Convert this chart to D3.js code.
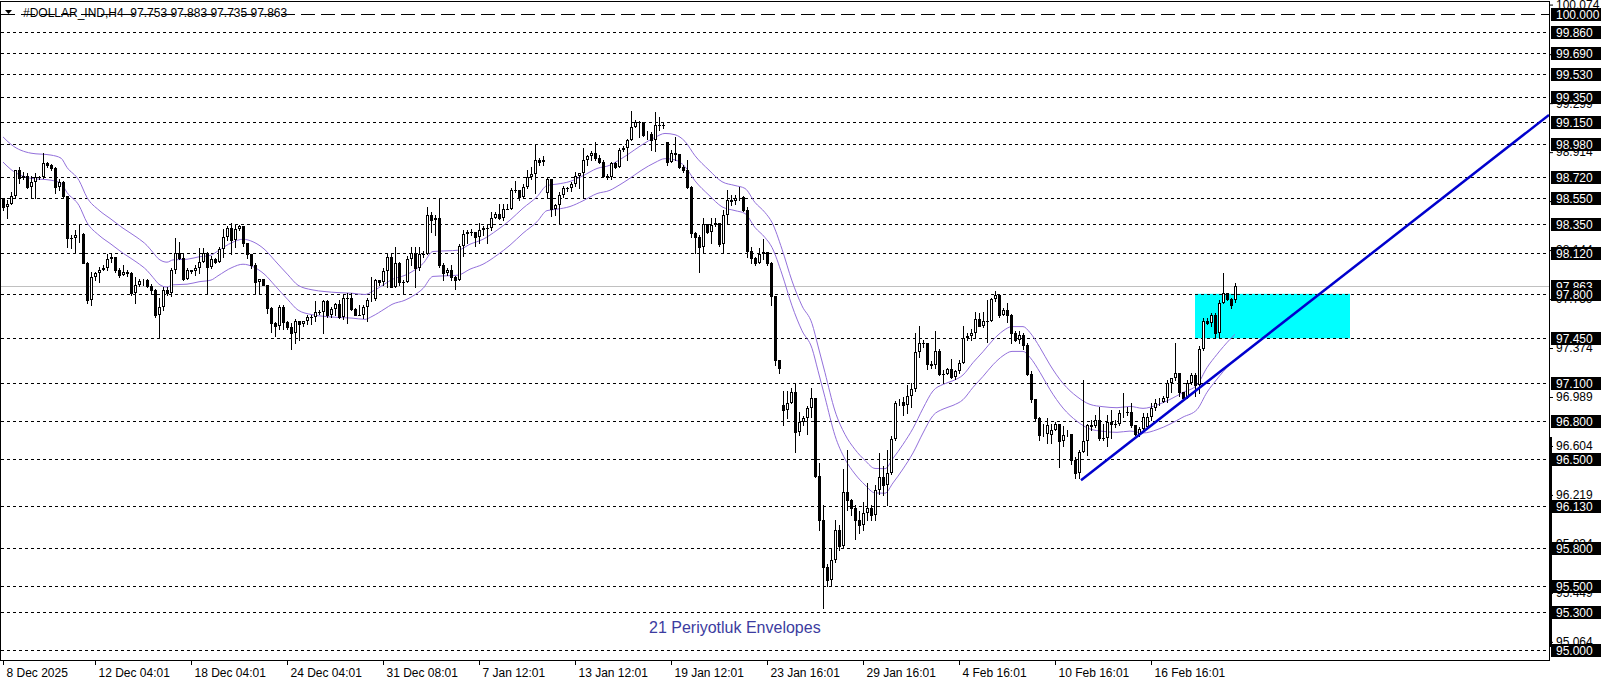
<!DOCTYPE html>
<html><head><meta charset="utf-8">
<script src="https://cdn.jsdelivr.net/npm/d3@7"></script>
<style>html,body{margin:0;padding:0;background:#fff;overflow:hidden}svg{display:block;font-family:"Liberation Sans",Arial,sans-serif}</style>
</head><body><svg id="chart" width="1606" height="684"></svg>
<script>
// ---- DATA (H4 candles, #DOLLAR_IND) ----
const open = [
98.55,98.48,98.51,98.57,98.77,98.71,98.73,98.64,98.68,98.72,
98.72,98.83,98.81,98.79,98.64,98.68,98.57,98.24,98.24,98.26,
98.27,98.04,97.75,97.93,97.96,97.99,98.00,98.07,98.09,97.99,
97.95,97.97,97.96,97.81,97.87,97.90,97.91,97.86,97.83,97.63,
97.70,97.83,97.81,97.99,98.12,98.08,97.92,97.99,97.98,98.00,
98.05,98.12,98.01,98.07,98.05,98.15,98.25,98.32,98.22,98.31,
98.33,98.20,98.11,98.03,97.89,97.92,97.87,97.69,97.57,97.55,
97.70,97.58,97.54,97.49,97.59,97.56,97.59,97.62,97.62,97.66,
97.66,97.74,97.63,97.68,97.72,97.62,97.77,97.77,97.68,97.63,
97.63,97.70,97.75,97.76,97.91,97.89,97.98,98.09,97.85,98.04,
97.89,97.89,98.07,98.12,98.00,98.11,98.11,98.42,98.38,98.40,
98.03,97.96,97.99,97.93,97.91,98.18,98.27,98.29,98.29,98.25,
98.30,98.32,98.32,98.40,98.43,98.40,98.47,98.47,98.62,98.62,
98.56,98.64,98.72,98.74,98.85,98.84,98.59,98.70,98.47,98.50,
98.58,98.63,98.63,98.66,98.73,98.75,98.85,98.88,98.91,98.87,
98.84,98.73,98.72,98.83,98.80,98.93,98.95,99.01,99.11,99.15,
99.15,99.05,99.06,99.01,99.13,99.13,98.99,98.84,98.91,98.90,
98.80,98.77,98.64,98.28,98.25,98.17,98.35,98.29,98.34,98.36,
98.19,98.42,98.54,98.53,98.55,98.56,98.46,98.14,98.08,98.04,
98.11,98.13,98.04,97.78,97.28,96.93,96.89,96.94,97.03,96.71,
96.79,96.82,96.90,96.98,96.37,96.02,95.65,95.55,95.71,95.94,
95.82,96.24,96.18,96.12,96.02,95.98,96.08,96.12,96.06,96.26,
96.36,96.30,96.39,96.66,96.94,96.95,96.93,97.00,97.05,97.34,
97.41,97.41,97.25,97.24,97.35,97.17,97.17,97.21,97.15,97.19,
97.26,97.45,97.47,97.49,97.60,97.55,97.59,97.59,97.76,97.79,
97.63,97.67,97.63,97.49,97.44,97.48,97.40,97.17,96.97,96.82,
96.69,96.70,96.69,96.73,96.78,96.64,96.69,96.70,96.49,96.39,
96.56,96.64,96.77,96.76,96.81,96.67,96.67,96.79,96.78,96.78,
96.86,96.87,96.87,96.77,96.70,96.74,96.75,96.83,96.90,96.94,
96.95,96.98,97.10,97.14,97.18,97.03,96.98,97.10,97.16,97.08,
97.37,97.59,97.57,97.63,97.49,97.73,97.81,97.76,97.753];
const high = [
98.55,98.54,98.60,98.77,98.80,98.76,98.75,98.73,98.75,98.73,
98.91,98.84,98.82,98.80,98.70,98.69,98.57,98.26,98.30,98.34,
98.28,98.05,97.97,97.97,98.01,98.03,98.11,98.11,98.05,98.00,
98.03,97.99,97.97,97.93,97.92,97.92,97.92,97.88,97.84,97.77,
97.85,97.85,98.00,98.24,98.21,98.11,98.00,97.99,98.03,98.16,
98.16,98.13,98.10,98.08,98.17,98.31,98.33,98.36,98.35,98.34,
98.26,98.20,98.11,98.04,97.92,97.92,97.81,97.70,97.58,97.71,
97.71,97.59,97.57,97.60,97.58,97.59,97.63,97.63,97.74,97.67,
97.75,97.75,97.70,97.73,97.75,97.79,97.81,97.81,97.69,97.71,
97.71,97.77,97.93,97.92,97.89,98.00,98.11,98.11,98.17,98.05,
97.91,98.10,98.17,98.17,98.17,98.14,98.48,98.44,98.42,98.55,
98.04,98.00,98.03,97.94,98.19,98.30,98.30,98.31,98.29,98.36,
98.33,98.34,98.44,98.44,98.51,98.51,98.51,98.63,98.69,98.62,
98.66,98.77,98.80,98.97,98.87,98.88,98.71,98.70,98.51,98.60,
98.65,98.64,98.68,98.76,98.75,98.95,98.89,98.92,98.99,98.89,
98.85,98.74,98.84,98.84,98.95,98.96,99.02,99.24,99.17,99.16,
99.15,99.08,99.07,99.23,99.19,99.15,98.99,98.93,99.03,98.90,
98.81,98.85,98.65,98.29,98.26,98.40,98.35,98.40,98.40,98.36,
98.46,98.62,98.58,98.58,98.64,98.57,98.48,98.17,98.09,98.16,
98.23,98.13,98.05,97.78,97.28,97.04,97.04,97.06,97.10,96.87,
96.84,96.92,97.06,96.98,96.47,96.14,95.68,95.80,96.02,95.98,
96.42,96.57,96.19,96.14,96.09,96.16,96.31,96.14,96.30,96.55,
96.45,96.57,96.68,96.96,96.97,96.99,97.08,97.10,97.49,97.55,
97.44,97.36,97.27,97.51,97.37,97.20,97.22,97.29,97.20,97.28,
97.55,97.49,97.52,97.66,97.65,97.66,97.75,97.77,97.82,97.77,
97.69,97.73,97.64,97.51,97.51,97.49,97.41,97.19,96.97,96.83,
96.78,96.82,96.78,96.79,96.78,96.76,96.73,96.68,96.52,96.57,
97.12,96.78,96.81,96.85,96.91,96.78,96.85,96.89,96.81,96.89,
97.02,96.91,96.94,96.77,96.75,96.86,96.86,96.94,96.97,96.98,
97.00,97.12,97.14,97.41,97.18,97.02,97.12,97.18,97.18,97.39,
97.61,97.61,97.65,97.65,97.75,97.96,97.81,97.77,97.883];
const low = [
98.46,98.40,98.51,98.55,98.67,98.70,98.63,98.55,98.55,98.70,
98.71,98.80,98.77,98.59,98.62,98.55,98.17,98.16,98.12,98.21,
98.04,97.73,97.71,97.91,97.89,97.99,97.99,98.05,97.97,97.93,
97.96,97.94,97.79,97.73,97.86,97.87,97.85,97.81,97.62,97.45,
97.67,97.79,97.78,97.96,98.07,97.91,97.92,97.96,97.95,97.96,
98.05,97.81,98.00,98.04,98.07,98.09,98.22,98.11,98.17,98.30,
98.18,98.08,98.00,97.81,97.81,97.87,97.65,97.50,97.47,97.52,
97.52,97.52,97.37,97.41,97.44,97.55,97.56,97.56,97.59,97.64,
97.49,97.62,97.62,97.63,97.61,97.60,97.57,97.67,97.63,97.63,
97.61,97.59,97.74,97.75,97.87,97.87,97.85,97.85,97.85,97.87,
97.81,97.89,98.03,97.85,97.99,98.09,98.26,98.29,98.26,98.01,
97.91,97.95,97.91,97.84,97.92,98.10,98.20,98.26,98.18,98.20,
98.26,98.20,98.30,98.40,98.39,98.38,98.47,98.47,98.60,98.54,
98.62,98.63,98.70,98.59,98.81,98.81,98.55,98.41,98.42,98.36,
98.56,98.61,98.61,98.65,98.63,98.55,98.81,98.85,98.85,98.83,
98.72,98.70,98.70,98.79,98.82,98.92,98.85,99.01,99.11,99.03,
99.04,99.02,98.93,98.92,99.09,99.10,98.81,98.85,98.85,98.79,
98.76,98.63,98.25,98.12,97.97,98.12,98.28,98.20,98.33,98.18,
98.13,98.36,98.50,98.51,98.54,98.45,98.09,98.04,98.03,98.07,
98.07,98.03,97.71,97.24,97.18,96.77,96.82,96.94,96.56,96.69,
96.77,96.70,96.83,96.36,95.94,95.33,95.50,95.51,95.69,95.79,
95.80,96.10,96.06,95.87,95.92,95.94,96.02,96.02,96.02,96.23,
96.22,96.14,96.38,96.65,96.93,96.85,96.86,96.91,97.04,97.30,
97.38,97.21,97.22,97.22,97.16,97.10,97.17,97.14,97.13,97.18,
97.26,97.44,97.44,97.45,97.55,97.54,97.42,97.59,97.74,97.62,
97.63,97.58,97.41,97.43,97.41,97.37,97.16,96.95,96.81,96.65,
96.68,96.63,96.63,96.73,96.44,96.60,96.68,96.46,96.35,96.35,
96.56,96.53,96.73,96.75,96.65,96.65,96.60,96.67,96.75,96.77,
96.83,96.85,96.75,96.69,96.68,96.77,96.75,96.81,96.89,96.93,
96.95,96.95,97.03,97.12,97.00,96.97,97.03,97.09,97.00,97.02,
97.36,97.56,97.55,97.45,97.45,97.73,97.75,97.69,97.735];
const close = [
98.48,98.51,98.57,98.77,98.71,98.73,98.64,98.68,98.72,98.72,
98.83,98.81,98.79,98.64,98.68,98.57,98.24,98.24,98.26,98.27,
98.04,97.75,97.93,97.96,97.99,98.00,98.07,98.09,97.99,97.95,
97.97,97.96,97.81,97.87,97.90,97.91,97.86,97.83,97.63,97.70,
97.83,97.81,97.99,98.12,98.08,97.92,97.99,97.98,98.00,98.05,
98.12,98.01,98.07,98.05,98.15,98.25,98.32,98.22,98.31,98.33,
98.20,98.11,98.03,97.89,97.92,97.87,97.69,97.57,97.55,97.70,
97.58,97.54,97.49,97.59,97.56,97.59,97.62,97.62,97.66,97.66,
97.74,97.63,97.68,97.72,97.62,97.77,97.77,97.68,97.63,97.63,
97.70,97.75,97.76,97.91,97.89,97.98,98.09,97.85,98.04,97.89,
97.89,98.07,98.12,98.00,98.11,98.11,98.42,98.38,98.40,98.03,
97.96,97.99,97.93,97.91,98.18,98.27,98.29,98.29,98.25,98.30,
98.32,98.32,98.40,98.43,98.40,98.47,98.47,98.62,98.62,98.56,
98.64,98.72,98.74,98.85,98.84,98.85,98.70,98.47,98.50,98.58,
98.63,98.63,98.66,98.73,98.75,98.85,98.88,98.91,98.87,98.84,
98.73,98.72,98.83,98.80,98.93,98.95,99.01,99.11,99.15,99.15,
99.05,99.06,99.01,99.13,99.13,99.13,98.84,98.91,98.90,98.80,
98.77,98.64,98.28,98.25,98.17,98.35,98.29,98.34,98.36,98.19,
98.42,98.54,98.53,98.55,98.56,98.46,98.14,98.08,98.04,98.11,
98.13,98.04,97.78,97.28,97.22,96.89,96.94,97.03,96.71,96.79,
96.82,96.90,96.98,96.37,96.02,95.65,95.55,95.71,95.94,95.82,
96.24,96.18,96.12,96.02,95.98,96.08,96.12,96.06,96.26,96.36,
96.30,96.39,96.66,96.94,96.95,96.93,97.00,97.05,97.34,97.41,
97.41,97.25,97.24,97.35,97.17,97.17,97.21,97.15,97.19,97.26,
97.45,97.47,97.49,97.60,97.55,97.59,97.59,97.76,97.79,97.63,
97.67,97.63,97.49,97.44,97.48,97.40,97.17,96.97,96.82,96.69,
96.70,96.77,96.73,96.78,96.64,96.69,96.70,96.49,96.39,96.56,
96.64,96.77,96.76,96.81,96.67,96.67,96.79,96.78,96.78,96.86,
96.87,96.87,96.77,96.70,96.74,96.83,96.83,96.90,96.94,96.95,
96.98,97.10,97.14,97.18,97.03,96.98,97.10,97.16,97.08,97.37,
97.59,97.57,97.63,97.49,97.73,97.81,97.76,97.71,97.863];

// 21-period envelope midline, read at bar positions
const envBar = [0,2,7,12,14.5,16,19,21,24,27,30,33.5,36,37.5,39,41,42.5,46,49,52,53.75,57.25,60,62.5,65.5,68,71.25,73.75,77.25,80.5,83.75,87.25,90.5,92.25,95.5,97.25,100.5,103,105,107.5,111,113.75,116.75,120,123.5,126.75,130,133.5,136,138.5,141.75,145,148.5,151.75,153,156,159.75,163,165.5,168,170.5,173,176.5,179.75,183,185.5,188,190.5,192.25,194.75,197.25,199.75,202.25,203.75,205.5,208,210.5,213,215.5,218,220.5,222.5,225,227.5,230,232.5,235,237.5,240,242.5,245,247.5,250,252.25,255,256.75,259.25,261.75,265,268.5,271.75,275,278.5,281.75,285,288.5,291.75,295,298.5,301,303.5,306.75,308];
const envMid = [98.935,98.876,98.807,98.792,98.768,98.695,98.593,98.459,98.359,98.289,98.218,98.145,98.082,98.027,97.974,97.951,97.969,97.974,97.993,98.006,98.040,98.105,98.131,98.111,98.048,97.962,97.851,97.770,97.734,97.720,97.712,97.707,97.697,97.720,97.781,97.815,97.848,97.891,97.940,98.035,98.040,98.045,98.092,98.131,98.202,98.281,98.375,98.465,98.553,98.564,98.585,98.630,98.687,98.713,98.734,98.792,98.873,98.931,98.962,98.952,98.899,98.787,98.674,98.583,98.553,98.530,98.420,98.341,98.263,98.053,97.804,97.608,97.469,97.293,97.083,96.782,96.598,96.480,96.394,96.331,96.329,96.410,96.520,96.646,96.803,96.940,96.991,97.020,97.065,97.162,97.248,97.340,97.411,97.445,97.445,97.398,97.280,97.144,96.999,96.895,96.834,96.816,96.808,96.818,96.803,96.829,96.873,96.928,96.987,97.123,97.227,97.345,97.384];
const envDeviationPct = 0.1;

const levelLines = [100.000,99.860,99.690,99.530,99.350,99.150,98.980,98.720,98.550,98.350,98.120,97.800,97.450,97.100,96.800,96.500,96.130,95.800,95.500,95.300,95.000];
const currentPrice = 97.863;
const scaleTicks = [100.074,99.684,99.299,98.914,98.529,98.144,97.759,97.374,96.989,96.604,96.219,95.834,95.449,95.064];
const dateTickBars = [0,23,47,71,95,119,143,167,191,215,239,263,287];
const dateLabels = ["8 Dec 2025","12 Dec 04:01","18 Dec 04:01","24 Dec 04:01","31 Dec 08:01","7 Jan 12:01","13 Jan 12:01","19 Jan 12:01","23 Jan 16:01","29 Jan 16:01","4 Feb 16:01","10 Feb 16:01","16 Feb 16:01"];
const trendBars = [269.5, 386.5];
const trendPrices = [96.335, 99.206];
const zoneBars = [298, 336.75];
const zonePrices = [97.45, 97.80];
const titleText = "#DOLLAR_IND,H4  97.753 97.883 97.735 97.863";
const noteText = "21 Periyotluk Envelopes";

// ---- LAYOUT ----
const plotL = 0, plotR = 1549, plotT = 1, plotB = 660;
const svg = d3.select("#chart");
svg.append("rect").attr("width",1606).attr("height",684).attr("fill","#fff");

const x = d3.scaleLinear().domain([0, 386.5]).range([3, 1549]);
const y = d3.scaleLinear().domain([95, 100]).range([650, 14]);

svg.append("defs").append("clipPath").attr("id","plotclip")
  .append("rect").attr("x",plotL+1).attr("y",plotT+1).attr("width",plotR-plotL-1).attr("height",plotB-plotT-1);

const plot = svg.append("g").attr("clip-path","url(#plotclip)");

// zone rectangle
plot.append("rect")
  .attr("x", x(zoneBars[0])).attr("width", x(zoneBars[1]) - x(zoneBars[0]))
  .attr("y", y(zonePrices[1])).attr("height", y(zonePrices[0]) - y(zonePrices[1]))
  .attr("fill", "#00ffff");

// level lines
plot.selectAll("line.lvl").data(levelLines).enter().append("line")
  .attr("class","lvl")
  .attr("x1", 1).attr("x2", plotR)
  .attr("y1", d => Math.round(y(d)) + 0.5).attr("y2", d => Math.round(y(d)) + 0.5)
  .attr("stroke", "#000").attr("stroke-width", 1)
  .attr("stroke-dasharray", d => d === 100 ? "14,6" : "3,3");

// current price line
plot.append("line").attr("x1",1).attr("x2",plotR)
  .attr("y1", Math.round(y(currentPrice))+0.5).attr("y2", Math.round(y(currentPrice))+0.5)
  .attr("stroke","#c0c0c0").attr("stroke-width",1);

// envelopes
const envPts = envBar.map((b,i) => ({b, v: envMid[i]}));
const k = envDeviationPct/100;
const envLine = f => d3.line().x(d => x(d.b)).y(d => y(f(d.v))).curve(d3.curveMonotoneX);
plot.append("path").datum(envPts).attr("d", envLine(v => v*(1+k))).attr("fill","none").attr("stroke","#9370db").attr("stroke-width",1);
plot.append("path").datum(envPts).attr("d", envLine(v => v*(1-k))).attr("fill","none").attr("stroke","#9370db").attr("stroke-width",1);

// candles
const candles = close.map((c,i) => ({i, o: open[i], h: high[i], l: low[i], c}));
const cg = plot.append("g");
candles.forEach(d => {
  const cx = Math.round(x(d.i));
  const hi = Math.max(d.h, d.o, d.c), lo = Math.min(d.l, d.o, d.c);
  cg.append("line").attr("x1", cx+0.5).attr("x2", cx+0.5)
    .attr("y1", Math.round(y(hi))).attr("y2", Math.round(y(lo))+1)
    .attr("stroke","#000").attr("stroke-width",1);
  const top = Math.round(y(Math.max(d.o,d.c))), bot = Math.round(y(Math.min(d.o,d.c)));
  if (bot - top < 1) {
    cg.append("rect").attr("x", cx-1).attr("y", top).attr("width",3).attr("height",1).attr("fill","#000");
  } else if (d.c >= d.o) {
    cg.append("rect").attr("x", cx-0.5).attr("y", top+0.5).attr("width",2).attr("height", Math.max(bot-top-1,0))
      .attr("fill","#fff").attr("stroke","#000").attr("stroke-width",1);
  } else {
    cg.append("rect").attr("x", cx-1).attr("y", top).attr("width",3).attr("height", bot-top+1).attr("fill","#000");
  }
});

// trend line
plot.append("line")
  .attr("x1", x(trendBars[0])).attr("y1", y(trendPrices[0]))
  .attr("x2", x(trendBars[1])).attr("y2", y(trendPrices[1]))
  .attr("stroke","#0000cd").attr("stroke-width",2.5);

// note text
svg.append("text").attr("x", 649).attr("y", 633).attr("font-size", 16)
  .attr("fill","#3c3ca0").text(noteText);

// title
svg.append("path").attr("d","M5,10 L12,10 L8.5,14 Z").attr("fill","#000");
svg.append("text").attr("x", 23).attr("y", 17).attr("font-size", 12).attr("fill","#000")
  .attr("xml:space","preserve").style("white-space","pre").text(titleText);

// frame
svg.append("line").attr("x1",0.5).attr("x2",0.5).attr("y1",plotT).attr("y2",plotB+1).attr("stroke","#000");
svg.append("line").attr("x1",0).attr("x2",plotR+1).attr("y1",plotT+0.5).attr("y2",plotT+0.5).attr("stroke","#000");
svg.append("line").attr("x1",0).attr("x2",plotR+1).attr("y1",plotB+0.5).attr("y2",plotB+0.5).attr("stroke","#000");
svg.append("line").attr("x1",plotR+0.5).attr("x2",plotR+0.5).attr("y1",plotT).attr("y2",plotB+1).attr("stroke","#000");
svg.append("rect").attr("x",plotR).attr("y",437).attr("width",3).attr("height",210).attr("fill","#000");

// right scale (plain labels)
const rAxis = d3.axisRight(y).tickValues(scaleTicks).tickSize(4).tickPadding(3).tickFormat(d3.format(".3f"));
const ra = svg.append("g").attr("transform",`translate(${plotR},0)`).call(rAxis);
ra.select(".domain").remove();
ra.selectAll("text").attr("font-size",12).attr("font-family","'Liberation Sans',Arial,sans-serif").attr("fill","#000");
ra.selectAll("line").attr("stroke","#000");

// boxed level labels
const boxes = [currentPrice].concat(levelLines);
const bg = svg.append("g");
boxes.forEach(v => {
  const cy = y(v) + 0.5;
  bg.append("rect").attr("x", plotR+2).attr("y", Math.round(cy-6.5)).attr("width", 50).attr("height", 13).attr("fill","#000");
  bg.append("text").attr("x", plotR+7).attr("y", cy).attr("dy","0.36em").attr("font-size",12).attr("fill","#fff").text(d3.format(".3f")(v));
});

// bottom axis
const bAxis = d3.axisBottom(x).tickValues(dateTickBars).tickSize(5).tickPadding(3).tickFormat((d,i) => dateLabels[i]);
const ba = svg.append("g").attr("transform",`translate(0,${plotB})`).call(bAxis);
ba.select(".domain").remove();
ba.selectAll("line").attr("stroke","#000");
ba.selectAll("text").attr("text-anchor","start").attr("x",3).attr("font-size",12)
  .attr("font-family","'Liberation Sans',Arial,sans-serif").attr("fill","#000");
</script></body></html>
